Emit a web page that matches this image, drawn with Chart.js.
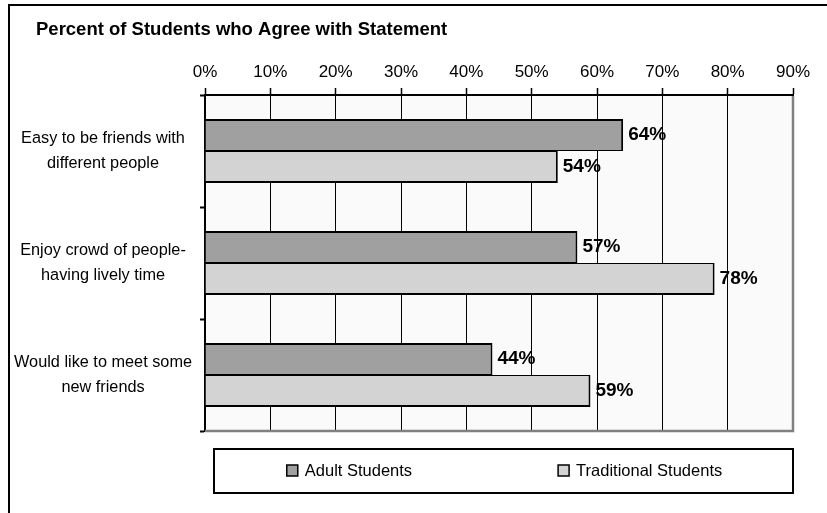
<!DOCTYPE html>
<html>
<head>
<meta charset="utf-8">
<script src="https://cdn.jsdelivr.net/npm/chart.js@4"></script>
<style>
  html, body { margin: 0; padding: 0; background: #ffffff; }
  canvas { display: block; }
</style>
</head>
<body>
<canvas id="c" width="827" height="513"></canvas>
<script>
// ---- Data ----
const chartTitle = "Percent of Students who Agree with Statement";
const categories = [
  ["Easy to be friends with", "different people"],
  ["Enjoy crowd of people-", "having lively time"],
  ["Would like to meet some", "new friends"]
];
const seriesNames = ["Adult Students", "Traditional Students"];
const adultValues = [64, 57, 44];
const traditionalValues = [54, 78, 59];
const xTickValues = [0, 10, 20, 30, 40, 50, 60, 70, 80, 90];

const FONT = '"Liberation Sans", Arial, Helvetica, sans-serif';
const colors = ["#A0A0A0", "#D3D3D3"];

const decorPlugin = {
  id: 'decor',
  beforeDraw(chart) {
    const ctx = chart.ctx;
    const a = chart.chartArea;
    ctx.save();
    ctx.fillStyle = '#FAFAFA';
    ctx.fillRect(a.left, a.top, a.right - a.left, a.bottom - a.top);
    ctx.restore();
  },
  beforeDatasetsDraw(chart) {
    const ctx = chart.ctx;
    const a = chart.chartArea;
    ctx.save();
    ctx.strokeStyle = '#808080';
    ctx.lineWidth = 2.5;
    ctx.beginPath();
    ctx.moveTo(a.right, a.top + 1);
    ctx.lineTo(a.right, a.bottom);
    ctx.lineTo(a.left, a.bottom);
    ctx.stroke();
    ctx.restore();
  },
  afterDraw(chart) {
    const ctx = chart.ctx;
    const a = chart.chartArea;
    ctx.save();
    // outer frame (only left/top visible)
    ctx.strokeStyle = '#000';
    ctx.lineWidth = 2;
    ctx.strokeRect(9, 5, 900, 600);

    // title
    ctx.fillStyle = '#000';
    ctx.font = 'bold 18.5px ' + FONT;
    ctx.textAlign = 'left';
    ctx.textBaseline = 'middle';
    ctx.fillText(chartTitle, 36, 30);

    // data labels
    ctx.font = 'bold 19px ' + FONT;
    chart.data.datasets.forEach((ds, i) => {
      const meta = chart.getDatasetMeta(i);
      meta.data.forEach((el, j) => {
        ctx.fillText(ds.data[j] + '%', el.x + 5, el.y);
      });
    });

    // legend
    const boxL = a.left + 9, boxR = a.right, boxT = 449, boxB = 493;
    ctx.lineWidth = 2;
    ctx.strokeStyle = '#000';
    ctx.strokeRect(boxL, boxT, boxR - boxL, boxB - boxT);
    ctx.font = '16.5px ' + FONT;
    const sq = 11, gap = 7, spacing = 146;
    const widths = chart.data.datasets.map(ds => sq + gap + ctx.measureText(ds.label).width);
    const total = widths.reduce((s, w) => s + w, 0) + spacing * (widths.length - 1);
    let x = (boxL + boxR) / 2 - total / 2 + 1;
    const cy = 471;
    chart.data.datasets.forEach((ds, i) => {
      ctx.fillStyle = ds.backgroundColor;
      ctx.fillRect(x, cy - 6, sq, sq);
      ctx.lineWidth = 1.5;
      ctx.strokeStyle = '#000';
      ctx.strokeRect(x, cy - 6, sq, sq);
      ctx.fillStyle = '#000';
      ctx.fillText(ds.label, x + sq + gap, cy);
      x += widths[i] + spacing;
    });
    ctx.restore();
  }
};

new Chart(document.getElementById('c'), {
  type: 'bar',
  data: {
    labels: categories,
    datasets: [
      {
        label: seriesNames[0],
        data: adultValues,
        backgroundColor: colors[0],
        borderColor: '#000',
        borderWidth: { top: 2, right: 2, bottom: 1, left: 2 },
        borderSkipped: 'start'
      },
      {
        label: seriesNames[1],
        data: traditionalValues,
        backgroundColor: colors[1],
        borderColor: '#000',
        borderWidth: { top: 1, right: 2, bottom: 2, left: 2 },
        borderSkipped: 'start'
      }
    ]
  },
  options: {
    indexAxis: 'y',
    responsive: false,
    animation: false,
    devicePixelRatio: 1,
    layout: { padding: { top: 0, right: 34, bottom: 82, left: 0 } },
    categoryPercentage: 0.571,
    barPercentage: 1,
    plugins: {
      legend: { display: false },
      title: { display: false },
      tooltip: { enabled: false }
    },
    scales: {
      x: {
        position: 'top',
        min: 0,
        max: 90,
        afterBuildTicks(scale) {
          scale.ticks = xTickValues.map(v => ({ value: v }));
        },
        afterFit(scale) { scale.height = 95; },
        ticks: {
          color: '#000',
          font: { family: FONT, size: 17 },
          padding: 5,
          callback: (v) => v + '%'
        },
        grid: {
          color: (c) => (c.tick && c.tick.value === 90) ? 'rgba(0,0,0,0)' : '#000',
          lineWidth: 1,
          tickColor: '#000',
          tickLength: 7,
          tickWidth: 1.5
        },
        border: { display: true, color: '#000', width: 2 }
      },
      y: {
        afterFit(scale) { scale.width = 205; },
        ticks: {
          color: '#000',
          font: { family: FONT, size: 16.3, lineHeight: 1.53 },
          crossAlign: 'center',
          padding: 8
        },
        grid: {
          offset: true,
          drawOnChartArea: false,
          drawTicks: true,
          tickLength: 5,
          tickColor: '#000',
          tickWidth: 2
        },
        border: { display: true, color: '#000', width: 2 }
      }
    }
  },
  plugins: [decorPlugin]
});
</script>
</body>
</html>
